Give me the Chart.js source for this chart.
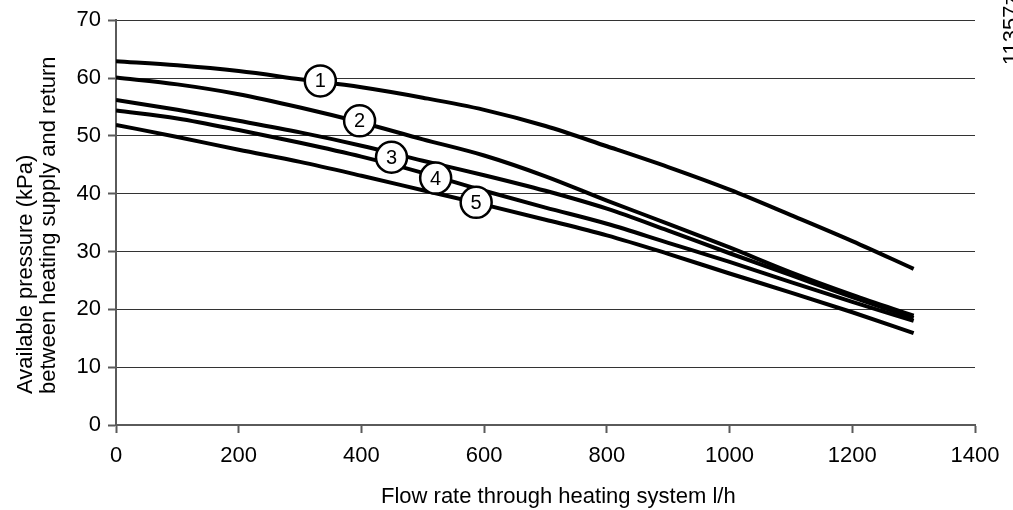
<!DOCTYPE html>
<html>
<head>
<meta charset="utf-8">
<script src="https://cdn.jsdelivr.net/npm/chart.js@4.4.2/dist/chart.umd.min.js"></script>
<style>
  html, body { margin: 0; padding: 0; background: #fff; overflow: hidden; }
  #wrap { width: 1013px; height: 510px; }
</style>
</head>
<body>
<div id="wrap"><canvas id="grafico" width="1013" height="510"></canvas></div>
<script>
// Caudal (l/h) y presión disponible (kPa) para cada curva
const flujo = [0, 100, 200, 300, 400, 500, 600, 700, 800, 900, 1000, 1100, 1200, 1300];
const curva1 = [62.9, 62.2, 61.2, 59.8, 58.4, 56.6, 54.5, 51.7, 48.2, 44.6, 40.7, 36.3, 31.8, 27.0];
const curva2 = [60.1, 58.9, 57.2, 54.9, 52.3, 49.4, 46.6, 43.0, 38.8, 34.8, 30.7, 26.4, 22.5, 18.9];
const curva3 = [56.2, 54.5, 52.6, 50.6, 48.3, 45.7, 43.2, 40.5, 37.4, 33.6, 29.7, 25.9, 22.1, 18.5];
const curva4 = [54.4, 53.0, 51.0, 48.8, 46.4, 43.6, 40.5, 37.6, 34.8, 31.5, 28.2, 24.7, 21.3, 18.0];
const curva5 = [51.9, 49.8, 47.6, 45.5, 43.1, 40.6, 38.1, 35.5, 32.8, 29.6, 26.2, 22.9, 19.5, 15.9];

// Etiquetas numeradas sobre las curvas
const etiquetas = ['1', '2', '3', '4', '5'];
const etiquetaX = [333, 397, 449, 521, 587];
const etiquetaY = [59.5, 52.6, 46.3, 42.7, 38.5];

const ticksX = [0, 200, 400, 600, 800, 1000, 1200, 1400];
const tituloX = 'Flow rate through heating system l/h';
const tituloY = ['Available pressure (kPa)', 'between heating supply and return'];
const codigo = '11357z02';

const FUENTE = "'Liberation Sans', Arial, sans-serif";
const GRIS = '#5a5a5a';

const puntos = (ys) => ys.map((y, i) => ({ x: flujo[i], y: y }));

const curvas = [curva1, curva2, curva3, curva4, curva5].map(c => ({
  data: puntos(c),
  showLine: true,
  borderColor: '#000',
  borderWidth: 4,
  pointRadius: 0,
  cubicInterpolationMode: 'monotone',
  order: 1
}));

const marcas = {
  data: etiquetaX.map((x, i) => ({ x: x, y: etiquetaY[i] })),
  showLine: false,
  pointRadius: 15.5,
  pointBackgroundColor: '#fff',
  pointBorderColor: '#000',
  pointBorderWidth: 2.5,
  order: 0
};

// Dibuja números, títulos de ejes y el código girado
const textos = {
  id: 'textos',
  afterDatasetsDraw(chart) {
    const ctx = chart.ctx;
    const meta = chart.getDatasetMeta(5);
    ctx.save();
    ctx.fillStyle = '#000';
    ctx.font = '20px ' + FUENTE;
    ctx.textAlign = 'center';
    ctx.textBaseline = 'middle';
    meta.data.forEach((p, i) => ctx.fillText(etiquetas[i], p.x, p.y + 1));
    ctx.restore();
  },
  afterDraw(chart) {
    const ctx = chart.ctx;
    ctx.save();
    ctx.fillStyle = '#000';
    ctx.font = '22px ' + FUENTE;
    ctx.textBaseline = 'alphabetic';
    ctx.textAlign = 'left';
    ctx.fillText(tituloX, 381, 503);

    ctx.save();
    ctx.translate(31.5, 394);
    ctx.rotate(-Math.PI / 2);
    ctx.fillText(tituloY[0], 0, 0);
    ctx.restore();

    ctx.save();
    ctx.translate(55, 394);
    ctx.rotate(-Math.PI / 2);
    ctx.fillText(tituloY[1], 0, 0);
    ctx.restore();

    ctx.save();
    ctx.translate(1018, 65);
    ctx.rotate(-Math.PI / 2);
    ctx.fillText(codigo, 0, 0);
    ctx.restore();
    ctx.restore();
  }
};

new Chart(document.getElementById('grafico').getContext('2d'), {
  type: 'scatter',
  data: { datasets: [...curvas, marcas] },
  plugins: [textos],
  options: {
    responsive: false,
    animation: false,
    events: [],
    layout: { padding: { top: 19, right: 38, left: 0, bottom: 0 } },
    plugins: {
      legend: { display: false },
      tooltip: { enabled: false }
    },
    scales: {
      x: {
        type: 'linear',
        min: 0,
        max: 1400,
        afterFit: (s) => { s.height = 85; },
        afterBuildTicks: (s) => { s.ticks = ticksX.map(v => ({ value: v })); },
        border: { color: GRIS, width: 2 },
        grid: { drawOnChartArea: false, tickLength: 8, tickColor: GRIS, tickWidth: 2 },
        ticks: {
          color: '#000',
          padding: 10,
          maxRotation: 0,
          font: { family: FUENTE, size: 22 },
          callback: (v) => String(v)
        }
      },
      y: {
        min: 0,
        max: 70,
        afterFit: (s) => { s.width = 116; },
        border: { color: GRIS, width: 2 },
        grid: { color: '#333', lineWidth: 1, tickLength: 8, tickColor: GRIS, tickWidth: 2 },
        ticks: { stepSize: 10, color: '#000', padding: 7, font: { family: FUENTE, size: 22 } }
      }
    }
  }
});
</script>
</body>
</html>
